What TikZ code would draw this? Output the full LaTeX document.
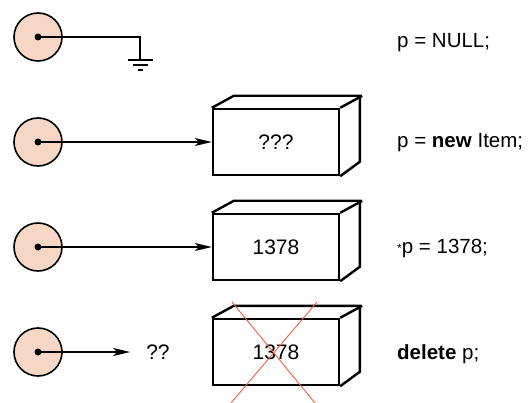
\documentclass[tikz,border=0pt]{standalone}
\usepackage{fontspec}
\setmainfont{Liberation Sans}
\usetikzlibrary{arrows.meta}
\definecolor{cellfill}{RGB}{246,215,198}
\definecolor{crossred}{RGB}{232,98,64}
\tikzset{
  ptr/.style={circle, draw, line width=1.6pt, fill=cellfill, minimum size=48pt, inner sep=0pt},
  dot/.style={circle, fill=black, minimum size=7pt, inner sep=0pt},
  link/.style={line width=1.3pt, -{Stealth[length=17pt,width=8pt,inset=4pt]}},
  wire/.style={line width=1.3pt},
  cell/.style={draw, line width=2.4pt, minimum width=126pt, minimum height=66pt, inner sep=0pt, font=\fontsize{21}{24}\selectfont},
  side/.style={line width=2.4pt, line join=miter},
  code/.style={anchor=base west, inner sep=0pt, font=\fontsize{20.5}{24}\selectfont},
  cross/.style={draw=crossred, line width=0.9pt}
}
\begin{document}
\begin{tikzpicture}[x=1pt, y=-1pt]
\useasboundingbox (0,0) rectangle (529,403);

% pointer variables
\foreach \i/\y in {1/37, 2/142, 3/247, 4/352} {
  \node[ptr] (c\i) at (38,\y) {};
  \node[dot] (d\i) at (c\i.center) {};
}

% memory cells drawn as boxes with depth
\foreach \i/\y/\t in {2/142/???, 3/247/1378, 4/352/1378} {
  \node[cell] (b\i) at (276,\y) {\t};
  \draw[side] (b\i.north west) -- ++(22,-12) -- ++(126,0) -- ++(0,66) -- (b\i.south east);
  \draw[side] (b\i.north east) -- ++(22,-12);
}

% NULL pointer to ground
\coordinate (g) at (140,60);
\draw[wire] (d1.center) -| (g);
\draw[wire] (128,60) -- (153,60);
\draw[wire] (133,65) -- (148,65);
\draw[wire] (138,70) -- (143,70);

% links to the cells
\draw[link] (d2.center) -- (b2.west);
\draw[link] (d3.center) -- (b3.west);

% dangling pointer
\node[font=\fontsize{21}{24}\selectfont, inner sep=0pt] (qq) at (158,352) {??};
\draw[link, shorten >=16pt] (d4.center) -- (qq.west);

% deleted cell crossed out
\coordinate (x1) at (232,302);
\coordinate (x2) at (315,403);
\coordinate (x3) at (317,302);
\coordinate (x4) at (231,403);
\draw[cross] (x1) -- (x2);
\draw[cross] (x3) -- (x4);

% code column
\node[code] (s1) at (397,48) {p = NULL;};
\node[code] (s2) at (397,148) {p = \textbf{new} Item;};
\node[code] (s3) at (397,253) {{\raisebox{1pt}{\fontsize{12}{12}\selectfont*}}p = 1378;};
\node[code] (s4) at (397,359) {\textbf{delete} p;};
\end{tikzpicture}
\end{document}
